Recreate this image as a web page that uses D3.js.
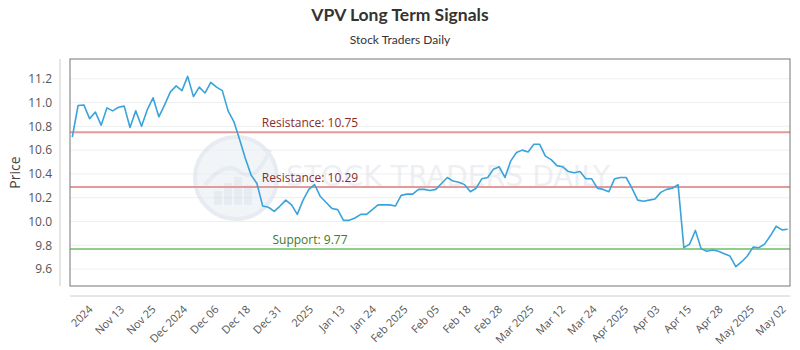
<!DOCTYPE html>
<html><head><meta charset="utf-8">
<script src="https://cdn.jsdelivr.net/npm/d3@7"></script>
<style>body{margin:0;background:#fff}svg{display:block}</style>
</head><body><div id="chart"></div>
<script>
const title = "VPV Long Term Signals";
const subtitle = "Stock Traders Daily";
const prices = [10.71,10.975,10.98,10.865,10.92,10.81,10.955,10.93,10.96,10.97,
10.79,10.93,10.80,10.94,11.04,10.88,10.98,11.09,11.14,11.10,
11.22,11.05,11.13,11.08,11.17,11.13,11.10,10.93,10.84,10.69,
10.53,10.39,10.32,10.13,10.12,10.085,10.13,10.18,10.14,10.06,
10.18,10.27,10.31,10.21,10.16,10.11,10.10,10.01,10.01,10.03,
10.06,10.06,10.10,10.14,10.14,10.14,10.13,10.22,10.23,10.23,
10.27,10.27,10.26,10.27,10.32,10.37,10.34,10.33,10.31,10.25,
10.28,10.36,10.37,10.44,10.46,10.37,10.51,10.58,10.60,10.585,
10.65,10.65,10.55,10.52,10.47,10.46,10.42,10.41,10.42,10.36,
10.36,10.28,10.27,10.25,10.36,10.37,10.37,10.28,10.18,10.17,
10.18,10.19,10.245,10.27,10.28,10.31,9.78,9.81,9.925,9.77,
9.75,9.76,9.75,9.73,9.71,9.62,9.66,9.71,9.785,9.78,
9.81,9.88,9.96,9.93,9.935];
const xTickLabels = ["2024","Nov 13","Nov 25","Dec 2024","Dec 06","Dec 18","Dec 31","2025","Jan 13","Jan 24","Feb 2025","Feb 05","Feb 18","Feb 28","Mar 2025","Mar 12","Mar 24","Apr 2025","Apr 03","Apr 15","Apr 28","May 2025","May 02"];
const yTicks = [9.6,9.8,10.0,10.2,10.4,10.6,10.8,11.0,11.2];
const levelNames = ["Resistance","Resistance","Support"];
const levelValues = [10.75,10.29,9.77];
const levelKinds = ["res","res","sup"];

const W = 800, H = 350;
const L = 70, R = 790, T = 59, B = 286;
const svg = d3.select("#chart").append("svg").attr("width",W).attr("height",H)
  .style("font-family","'Open Sans', sans-serif");

const x = d3.scaleLinear().domain([0, prices.length-1]).range([L+2.3, R-2.3]);
const y = d3.scaleLinear().domain([9.458, 11.366]).range([B, T]);
const xt = d3.scalePoint().domain(xTickLabels).range([93, 786]);

// title
svg.append("text").attr("x",400).attr("y",21).attr("text-anchor","middle")
  .style("font-family","Lato, sans-serif").style("font-weight","700").style("font-size","17.5px")
  .attr("fill","#333").text(title);
svg.append("text").attr("x",400).attr("y",44).attr("text-anchor","middle")
  .style("font-family","Lato, sans-serif").style("font-size","12px").attr("fill","#333").text(subtitle);

// gridlines
svg.append("g").selectAll("line").data(yTicks).join("line")
  .attr("x1",L).attr("x2",R).attr("y1",d=>y(d)).attr("y2",d=>y(d))
  .attr("stroke","#eeeeee").attr("stroke-width",1);

// watermark
const wm = svg.append("g").attr("opacity",0.55);
wm.append("circle").attr("cx",236).attr("cy",178).attr("r",41)
  .attr("fill","#e9eef4").attr("stroke","#d3dde8").attr("stroke-width",4);
[[-22,14],[-12,22],[-2,28],[8,20]].forEach(([dx,h])=>{
  wm.append("rect").attr("x",236+dx).attr("y",205-h).attr("width",8).attr("height",h).attr("fill","#d3dde8");
});
wm.append("path").attr("d","M205,185 Q225,160 240,172 T270,150").attr("fill","none").attr("stroke","#d3dde8").attr("stroke-width",4);
wm.append("text").attr("x",286).attr("y",186).attr("textLength",324).attr("lengthAdjust","spacingAndGlyphs")
  .style("font-size","28px").style("font-family","'DejaVu Sans Condensed', sans-serif").attr("fill","#dfe4ea").text("STOCK TRADERS DAILY");

// level lines
const lg = svg.append("g");
levelValues.forEach((v,i)=>{
  const col = levelKinds[i]==="res" ? "#e39a9a" : "#8fcf8a";
  const tcol = levelKinds[i]==="res" ? "#8b2b2b" : "#3d7a2a";
  lg.append("line").attr("x1",L).attr("x2",R).attr("y1",y(v)).attr("y2",y(v))
    .attr("stroke",col).attr("stroke-width",2);
  lg.append("text").attr("x",L+(R-L)/3).attr("y",y(v)-5).attr("text-anchor","middle")
    .style("font-size","12px").attr("fill",tcol).text(`${levelNames[i]}: ${v}`);
});

// price line
svg.append("path").datum(prices)
  .attr("d", d3.line().x((d,i)=>x(i)).y(d=>y(d)))
  .attr("fill","none").attr("stroke","#3aa3db").attr("stroke-width",1.6).attr("stroke-linejoin","round");

// plot frame
svg.append("rect").attr("x",L).attr("y",T).attr("width",R-L).attr("height",B-T)
  .attr("fill","none").attr("stroke","#777").attr("stroke-width",1);

// y axis
const ya = svg.append("g").attr("transform",`translate(60,0)`)
  .call(d3.axisLeft(y).tickValues(yTicks).tickFormat(d3.format(".1f")).tickSize(0).tickPadding(8));
ya.select(".domain").attr("stroke","#ccc").attr("d",`M0,${T}V${B}`);
ya.selectAll("text").style("font-size","12px").style("font-family","'Open Sans', sans-serif").attr("fill","#555");
svg.append("text").attr("transform",`translate(20,${(T+B)/2}) rotate(-90)`).attr("text-anchor","middle")
  .style("font-size","14px").attr("fill","#444").text("Price");

// x axis
const xa = svg.append("g").attr("transform",`translate(0,296)`)
  .call(d3.axisBottom(xt).tickSize(0).tickPadding(0));
xa.select(".domain").attr("stroke","#ccc").attr("d",`M${L},0H${R}`);
xa.selectAll("text").attr("text-anchor","end").attr("dy",0).attr("y",0)
  .attr("transform","translate(0,14) rotate(-45)")
  .style("font-size","11px").style("font-family","'Open Sans', sans-serif").attr("fill","#555");
</script></body></html>
